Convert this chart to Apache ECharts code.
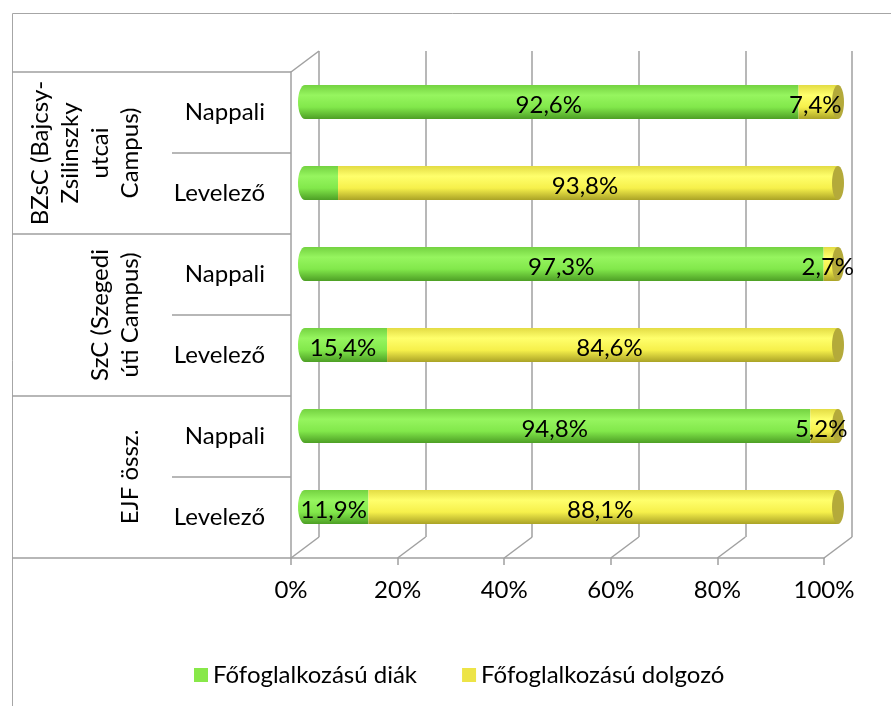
<!DOCTYPE html>
<html>
<head>
<meta charset="utf-8">
<script src="https://cdn.jsdelivr.net/npm/echarts@6/dist/echarts.min.js"></script>
<style>
  html, body { margin: 0; padding: 0; background: #fff; }
  #chart { width: 891px; height: 706px; }
</style>
</head>
<body>
<div id="chart"></div>
<script>
// data
const categories = ["Nappali", "Levelező", "Nappali", "Levelező", "Nappali", "Levelező"];
const groups = ["BZsC (Bajcsy-\nZsilinszky\nutcai\nCampus)", "SzC (Szegedi\núti Campus)", "EJF össz."];
const diak = [92.6, 6.2, 97.3, 15.4, 94.8, 11.9];
const dolgozo = [7.4, 93.8, 2.7, 84.6, 5.2, 88.1];
const diakLabelShown = [true, false, true, true, true, true];
const dolgozoLabelShown = [true, true, true, true, true, true];
const ticks = [0, 20, 40, 60, 80, 100];

const FONT = "Lato, 'Open Sans', sans-serif";
const GRAY = "#a0a0a0";
const DX = 28, DY = -21; // depth of the 3d box

const greenStops = [
  { offset: 0, color: "#74d241" },
  { offset: 0.3, color: "#96f55f" },
  { offset: 0.65, color: "#82e84b" },
  { offset: 1, color: "#4d9f25" },
];
const yellowStops = [
  { offset: 0, color: "#e3dc44" },
  { offset: 0.3, color: "#ffff6c" },
  { offset: 0.65, color: "#f6f04b" },
  { offset: 1, color: "#aaa326" },
];
const yellowCap = "#b4aa3a";
const greenCap = "#5fae33";

const fmt = (v) => v.toFixed(1).replace(".", ",") + "%";

function cylinder(stops, capColor, shown) {
  return function (params, api) {
    const i = params.dataIndex;
    const start = api.value(1), end = api.value(2);
    const a = api.coord([start, api.value(0)]);
    const b = api.coord([end, api.value(0)]);
    const h = 34, rx = 6;
    const fill = new echarts.graphic.LinearGradient(0, 0, 0, 1, stops);
    const children = [];
    if (start === 0) {
      children.push({ type: "ellipse", shape: { cx: a[0], cy: a[1], rx: rx + 1, ry: h / 2 }, style: { fill: fill } });
    }
    children.push({ type: "rect", shape: { x: a[0], y: a[1] - h / 2, width: b[0] - a[0], height: h }, style: { fill: fill } });
    if (end >= 99.99) {
      children.push({ type: "ellipse", shape: { cx: b[0], cy: b[1], rx: rx, ry: h / 2 }, style: { fill: capColor } });
    }
    if (shown[i]) {
      children.push({
        type: "text",
        x: (a[0] + b[0]) / 2 - 3,
        y: a[1] + 3,
        style: { text: fmt(api.value(3)), font: "24px " + FONT, fill: "#000", align: "center", verticalAlign: "middle" },
      });
    }
    return { type: "group", children: children };
  };
}

const chart = echarts.init(document.getElementById("chart"));

chart.setOption({
  animation: false,
  graphic: [
    { type: "rect", shape: { x: 12.5, y: 13.5, width: 900, height: 720 }, style: { fill: "none", stroke: "#a6a6a6", lineWidth: 1 }, silent: true },
  ],
  grid: [
    { left: 319, right: 39, top: 51, bottom: 169 },   // back wall
    { left: 291, right: 67, top: 72, bottom: 148 },   // front
    { left: 305, right: 53, top: 61.5, bottom: 158.5 }, // bars at mid depth
  ],
  legend: {
    data: ["Főfoglalkozású diák", "Főfoglalkozású dolgozó"],
    left: 189,
    top: 658,
    icon: "rect",
    itemWidth: 14,
    itemHeight: 14,
    itemGap: 45,
    textStyle: { fontFamily: FONT, fontSize: 24, color: "#000" },
  },
  xAxis: [
    {
      gridIndex: 0, type: "value", min: 0, max: 100, interval: 20,
      axisLine: { show: false }, axisTick: { show: false }, axisLabel: { show: false },
      splitLine: { show: true, lineStyle: { color: GRAY, width: 1.5 } },
    },
    {
      gridIndex: 1, type: "value", min: 0, max: 100, interval: 20,
      axisLine: { show: true, lineStyle: { color: GRAY, width: 1.5 } },
      axisTick: { show: true, length: 7, lineStyle: { color: GRAY, width: 1.5 } },
      axisLabel: { formatter: "{value}%", margin: 20, fontFamily: FONT, fontSize: 24, color: "#000" },
      splitLine: { show: false },
    },
    {
      gridIndex: 2, type: "value", min: 0, max: 100, show: false,
    },
  ],
  yAxis: [
    { gridIndex: 0, type: "category", data: categories, inverse: true, show: false },
    {
      gridIndex: 1, type: "category", data: categories, inverse: true,
      axisLine: { show: true, lineStyle: { color: GRAY, width: 1.5 } },
      axisTick: { show: true, interval: 0, length: 119, lineStyle: { color: GRAY, width: 1.5 } },
      axisLabel: { interval: 0, margin: 26, fontFamily: FONT, fontSize: 24, color: "#000" },
      splitLine: { show: false },
    },
    {
      gridIndex: 1, type: "category", data: groups, inverse: true, position: "left",
      axisLine: { show: false },
      axisTick: { show: true, interval: 0, length: 279, lineStyle: { color: GRAY, width: 1.5 } },
      axisLabel: {
        interval: 0, hideOverlap: false,
        rotate: 90, margin: 146, align: "center", verticalAlign: "bottom", lineHeight: 30,
        fontFamily: FONT, fontSize: 24, color: "#000",
      },
    },
    { gridIndex: 2, type: "category", data: categories, inverse: true, show: false },
  ],
  series: [
    {
      type: "custom",
      name: "frame",
      xAxisIndex: 1,
      yAxisIndex: 1,
      silent: true,
      clip: false,
      z: 1,
      encode: { x: 0, y: 1 },
      data: ticks.map((t) => [t, 0]),
      renderItem: function (params, api) {
        const p = api.coord([api.value(0), 0]);
        const cs = params.coordSys;
        const yb = cs.y + cs.height;
        const lines = [
          { type: "line", shape: { x1: p[0], y1: yb, x2: p[0] + DX, y2: yb + DY }, style: { stroke: GRAY, lineWidth: 1.5 } },
        ];
        if (params.dataIndex === 0) {
          lines.push({ type: "line", shape: { x1: p[0], y1: cs.y, x2: p[0] + DX, y2: cs.y + DY }, style: { stroke: GRAY, lineWidth: 1.5 } });
        }
        return { type: "group", children: lines };
      },
    },
    {
      type: "custom",
      name: "Főfoglalkozású diák",
      xAxisIndex: 2,
      yAxisIndex: 3,
      clip: false,
      z: 2,
      itemStyle: { color: "#88e849" },
      encode: { x: [1, 2], y: 0 },
      data: diak.map((v, i) => [i, 0, v, v]),
      renderItem: cylinder(greenStops, greenCap, diakLabelShown),
    },
    {
      type: "custom",
      name: "Főfoglalkozású dolgozó",
      xAxisIndex: 2,
      yAxisIndex: 3,
      clip: false,
      z: 3,
      itemStyle: { color: "#ede447" },
      encode: { x: [1, 2], y: 0 },
      data: dolgozo.map((v, i) => [i, diak[i], diak[i] + v, v]),
      renderItem: cylinder(yellowStops, yellowCap, dolgozoLabelShown),
    },
  ],
});

window.addEventListener("resize", () => {
  chart && chart.resize();
});
</script>
</body>
</html>
